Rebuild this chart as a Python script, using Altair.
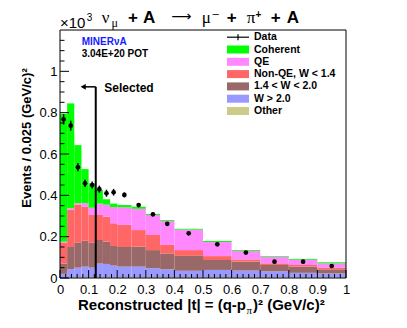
import altair as alt
import pandas as pd
import numpy as np

# ---------------- data ----------------
edges = [0, 0.025, 0.05, 0.075, 0.1, 0.125, 0.15, 0.175, 0.2, 0.25, 0.3,
         0.35, 0.4, 0.5, 0.6, 0.7, 0.8, 0.9, 1.0]

# stacked components (bottom -> top), events / 0.025 (GeV/c)^2, x10^3
other    = [0.003] * 18
w_high   = [0.017, 0.039, 0.047, 0.052, 0.047, 0.067, 0.065, 0.057, 0.052, 0.052,
            0.044, 0.039, 0.032, 0.036, 0.033, 0.029, 0.022, 0.019]
w_mid    = [0.050, 0.108, 0.120, 0.125, 0.120, 0.114, 0.108, 0.095, 0.095, 0.097,
            0.088, 0.077, 0.072, 0.048, 0.043, 0.031, 0.030, 0.020]
non_qe   = [0.100, 0.180, 0.185, 0.165, 0.135, 0.121, 0.121, 0.110, 0.107, 0.080,
            0.073, 0.041, 0.028, 0.019, 0.011, 0.008, 0.008, 0.008]
qe       = [0.005, 0.008, 0.007, 0.017, 0.035, 0.055, 0.058, 0.078, 0.085, 0.103,
            0.097, 0.116, 0.099, 0.068, 0.041, 0.032, 0.024, 0.021]
coherent = [0.620, 0.507, 0.281, 0.165, 0.118, 0.066, 0.026, 0.017, 0.011, 0.010,
            0.005, 0.004, 0.004, 0.005, 0.004, 0.003, 0.004, 0.005]

data_vals = [0.768, 0.737, 0.536, 0.458, 0.450, 0.430, 0.410, 0.415, 0.402, 0.353,
             0.308, 0.262, 0.216, 0.163, 0.123, 0.079, 0.079, 0.058]
data_err  = [0.025, 0.024, 0.020, 0.018, 0.017, 0.017, 0.017, 0.016, 0.012, 0.010,
             0.009, 0.008, 0.007, 0.006, 0.005, 0.004, 0.004, 0.004]

stack_names = ["Other", "W > 2.0", "1.4 < W < 2.0", "Non-QE, W < 1.4", "QE", "Coherent"]
stack_series = [other, w_high, w_mid, non_qe, qe, coherent]
stack_colors = ["#cccc88", "#9999ff", "#996868", "#ff6666", "#ff88ff", "#00ff00"]

legend_names = ["Coherent", "QE", "Non-QE, W < 1.4", "1.4 < W < 2.0", "W > 2.0", "Other"]

x_major = [0, 0.1, 0.2, 0.3, 0.4, 0.5, 0.6, 0.7, 0.8, 0.9, 1.0]
y_major = [0, 0.2, 0.4, 0.6, 0.8, 1.0]

# ---------------- tables ----------------
rows = []
for i in range(len(edges) - 1):
    cum = 0.0
    for name, ser in zip(stack_names, stack_series):
        rows.append({"lo": edges[i], "hi": edges[i + 1], "y0": cum,
                     "y1": cum + ser[i], "cat": name})
        cum += ser[i]
stack_df = pd.DataFrame(rows)

pts_df = pd.DataFrame({
    "xc": [(edges[i] + edges[i + 1]) / 2 for i in range(len(edges) - 1)],
    "v": data_vals,
    "lo": [v - e for v, e in zip(data_vals, data_err)],
    "hi": [v + e for v, e in zip(data_vals, data_err)],
})

x_minor = [round(v, 3) for v in np.arange(0, 1.0001, 0.02) if round(v * 10, 6) % 1 != 0]
y_minor = [round(v, 3) for v in np.arange(0, 1.2001, 0.05) if round(v * 5, 6) % 1 != 0]

W, H = 286, 248
FONT = "Liberation Sans"

xs = alt.Scale(domain=[0, 1], nice=False, zero=False)
ys = alt.Scale(domain=[0, 1.2], nice=False, zero=False)
xaxis = alt.Axis(values=x_major, format="~g", title=None, grid=False, domain=False,
                 ticks=False, tickSize=0, labelPadding=5, labelFontSize=13, labelFont=FONT,
                 labelColor="black", labelFlush=False, labelOverlap=False)
yaxis = alt.Axis(values=y_major, format="~g", title=None, grid=False, domain=False,
                 ticks=False, tickSize=0, labelPadding=3, labelFontSize=13, labelFont=FONT,
                 labelColor="black", labelFlush=False, labelOverlap=False)


def X(f):
    return alt.X(f, type="quantitative", scale=xs, axis=xaxis)


def Y(f):
    return alt.Y(f, type="quantitative", scale=ys, axis=yaxis)


def txt(s, x, y, size, font=FONT, weight="normal", align="left",
        baseline="alphabetic", color="black", angle=0):
    return alt.Chart(pd.DataFrame({"t": [s]})).mark_text(
        align=align, baseline=baseline, fontSize=size, font=font,
        fontWeight=weight, color=color, angle=angle
    ).encode(x=alt.value(x), y=alt.value(y), text="t:N")


dummy = pd.DataFrame({"d": [0]})
layers = []

# stacked histogram
layers.append(alt.Chart(stack_df).mark_rect().encode(
    x=X("lo"), x2="hi", y=Y("y0"), y2="y1",
    color=alt.Color("cat:N", scale=alt.Scale(domain=stack_names, range=stack_colors),
                    legend=None)))

# inside ticks
layers.append(alt.Chart(pd.DataFrame({"v": x_major})).mark_rule(color="black", strokeWidth=1)
              .encode(x=X("v"), y=alt.value(H), y2=alt.value(H - 8)))
layers.append(alt.Chart(pd.DataFrame({"v": x_minor})).mark_rule(color="black", strokeWidth=1)
              .encode(x=X("v"), y=alt.value(H), y2=alt.value(H - 4)))
layers.append(alt.Chart(pd.DataFrame({"v": y_major})).mark_rule(color="black", strokeWidth=1)
              .encode(y=Y("v"), x=alt.value(0), x2=alt.value(9)))
layers.append(alt.Chart(pd.DataFrame({"v": y_minor})).mark_rule(color="black", strokeWidth=1)
              .encode(y=Y("v"), x=alt.value(0), x2=alt.value(4.5)))

# "Selected" cut arrow
cut = pd.DataFrame({"x": [0.125], "x0": [0.08], "y0": [0.0], "y1": [0.925]})
layers.append(alt.Chart(cut).mark_rule(color="black", strokeWidth=2)
              .encode(x=X("x"), y=Y("y0"), y2="y1"))
layers.append(alt.Chart(cut).mark_rule(color="black", strokeWidth=1.5)
              .encode(x=X("x0"), x2="x", y=Y("y1")))
layers.append(alt.Chart(pd.DataFrame({"x": [0.081], "y": [0.925]}))
              .mark_point(shape="triangle-left", filled=True, color="black", size=35, opacity=1)
              .encode(x=X("x"), y=Y("y")))
layers.append(alt.Chart(pd.DataFrame({"x": [0.155], "y": [0.918], "t": ["Selected"]}))
              .mark_text(align="left", baseline="middle", fontSize=12, font=FONT,
                         fontWeight="bold", color="black")
              .encode(x=X("x"), y=Y("y"), text="t:N"))

# data points
layers.append(alt.Chart(pts_df).mark_rule(color="black", strokeWidth=1.5)
              .encode(x=X("xc"), y=Y("lo"), y2="hi"))
layers.append(alt.Chart(pts_df).mark_circle(color="black", size=22, opacity=1)
              .encode(x=X("xc"), y=Y("v")))

# frame
layers.append(alt.Chart(dummy).mark_rect(fill="transparent", stroke="black", strokeWidth=1)
              .encode(x=alt.value(0), x2=alt.value(W), y=alt.value(0), y2=alt.value(H)))

# legend
LX0, LX1, LT = 167, 189, 194
LY0, LDY = 19.5, 12.3
layers.append(alt.Chart(dummy).mark_rule(color="black", strokeWidth=1.2)
              .encode(x=alt.value(LX0), x2=alt.value(LX1), y=alt.value(LY0 - LDY)))
layers.append(alt.Chart(dummy).mark_rule(color="black", strokeWidth=1.2)
              .encode(x=alt.value((LX0 + LX1) / 2), y=alt.value(LY0 - LDY - 3),
                      y2=alt.value(LY0 - LDY + 3)))
layers.append(txt("Data", LT, LY0 - LDY, 10.5, weight="bold", baseline="middle"))
col_of = dict(zip(stack_names, stack_colors))
for i, name in enumerate(legend_names):
    yc = LY0 + LDY * i
    layers.append(alt.Chart(dummy).mark_rect(color=col_of[name]).encode(
        x=alt.value(LX0), x2=alt.value(LX1), y=alt.value(yc - 4), y2=alt.value(yc + 4)))
    layers.append(txt(name, LT, yc, 10.5, weight="bold", baseline="middle"))

# MINERvA labels
layers.append(txt("MINER\u03bdA", 21.7, 12.3, 10, weight="bold", baseline="middle",
                  color="#1a1aff"))
layers.append(txt("3.04E+20 POT", 21.7, 23.5, 10, weight="bold", baseline="middle"))

# x10^3
layers.append(txt("\u00d710", 0, -1.7, 15))
layers.append(txt("3", 26.7, -9.5, 10))

# title pieces
SER = "Liberation Serif"
TB = -7
layers += [
    txt("\u03bd", 41.7, TB, 17, font=SER),
    txt("\u03bc", 51.5, TB + 4, 12, font=SER),
    txt("+", 68, TB, 17, weight="bold"),
    txt("A", 83, TB, 17, weight="bold"),
    txt("\u27f6", 111.2, TB - 2, 14, font="DejaVu Sans"),
    txt("\u03bc", 141.7, TB, 17, font=SER),
    txt("\u2212", 151.5, TB - 5.5, 10, font="DejaVu Sans"),
    txt("+", 166.7, TB, 17, weight="bold"),
    txt("\u03c0", 186.7, TB, 17, font=SER),
    txt("+", 195.5, TB - 5.5, 10, weight="bold"),
    txt("+", 210.7, TB, 17, weight="bold"),
    txt("A", 226.7, TB, 17, weight="bold"),
]

# axis titles
layers.append(txt("Events / 0.025 (GeV/c)\u00b2", -33, 108, 13, weight="bold",
                  align="center", baseline="middle", angle=270))
layers.append(txt("Reconstructed |t| = (q-p", 186, 280, 15, weight="bold", align="right"))
layers.append(txt("\u03c0", 186.5, 284, 11, font=SER))
layers.append(txt(")\u00b2 (GeV/c)\u00b2", 193, 280, 15, weight="bold"))

chart = alt.layer(*layers).properties(
    width=W, height=H,
    padding={"left": 52, "top": 22, "right": 45, "bottom": 40},
    autosize=alt.AutoSizeParams(type="none"),
).configure_view(stroke=None)

chart.save("out.html", embed_options={"renderer": "svg", "actions": False})
